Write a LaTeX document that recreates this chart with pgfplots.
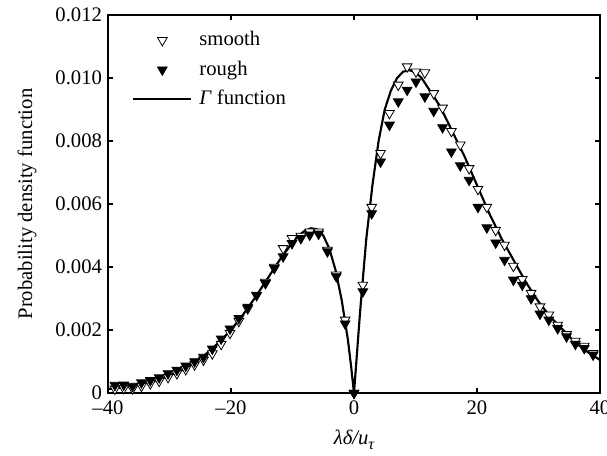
\documentclass[border=0pt]{standalone}
\usepackage{fontspec}
\setmainfont{Liberation Serif}
\usepackage{pgfplots}
\pgfplotsset{compat=1.18}
\pgfplotstableread{
x y
-38.88 0.00013
-37.44 0.00015
-36.00 0.00014
-34.56 0.00022
-33.12 0.00030
-31.68 0.00038
-30.24 0.00050
-28.80 0.00062
-27.36 0.00075
-25.92 0.00090
-24.48 0.00105
-23.04 0.00125
-21.60 0.00155
-20.16 0.00190
-18.72 0.00228
-17.28 0.00268
-15.84 0.00310
-14.40 0.00352
-12.96 0.00400
-11.52 0.00459
-10.08 0.00491
-8.64 0.00498
-7.20 0.00512
-5.76 0.00512
-4.32 0.00454
-2.88 0.00375
-1.44 0.00232
0.00 0.00000
1.44 0.00343
2.88 0.00590
4.32 0.00761
5.76 0.00888
7.20 0.00978
8.64 0.01036
10.08 0.01020
11.52 0.01017
12.96 0.00951
14.40 0.00905
15.84 0.00831
17.28 0.00788
18.72 0.00713
20.16 0.00647
21.60 0.00590
23.04 0.00517
24.48 0.00470
25.92 0.00403
27.36 0.00361
28.80 0.00317
30.24 0.00274
31.68 0.00248
33.12 0.00216
34.56 0.00186
36.00 0.00165
37.44 0.00149
38.88 0.00126
}\smooth
\pgfplotstableread{
x y
-38.88 0.00025
-37.44 0.00026
-36.00 0.00022
-34.56 0.00033
-33.12 0.00040
-31.68 0.00049
-30.24 0.00062
-28.80 0.00073
-27.36 0.00086
-25.92 0.00100
-24.48 0.00114
-23.04 0.00140
-21.60 0.00172
-20.16 0.00204
-18.72 0.00237
-17.28 0.00273
-15.84 0.00311
-14.40 0.00348
-12.96 0.00396
-11.52 0.00433
-10.08 0.00475
-8.64 0.00491
-7.20 0.00502
-5.76 0.00505
-4.32 0.00449
-2.88 0.00370
-1.44 0.00220
0.00 0.00000
1.44 0.00322
2.88 0.00570
4.32 0.00734
5.76 0.00851
7.20 0.00925
8.64 0.00962
10.08 0.00988
11.52 0.00941
12.96 0.00895
14.40 0.00843
15.84 0.00766
17.28 0.00722
18.72 0.00676
20.16 0.00590
21.60 0.00525
23.04 0.00477
24.48 0.00422
25.92 0.00359
27.36 0.00343
28.80 0.00300
30.24 0.00251
31.68 0.00232
33.12 0.00205
34.56 0.00179
36.00 0.00155
37.44 0.00142
38.88 0.00121
}\rough
\pgfplotstableread{
x y
-40 0.00012
-38 0.00017
-36 0.00022
-34 0.00030
-32 0.00040
-30 0.00055
-28 0.00072
-26 0.00095
-24 0.00125
-22 0.00160
-20 0.00200
-18 0.00250
-16 0.00305
-14 0.00365
-12 0.00425
-10 0.00478
-9 0.00500
-8 0.00515
-7 0.00523
-6 0.00520
-5 0.00500
-4 0.00458
-3 0.00390
-2 0.00295
-1 0.00170
-0.5 0.00090
0 0
0.5 0.0013
1 0.0026
2 0.0049
3 0.0066
4 0.0080
5 0.0090
6 0.0096
7 0.0100
8 0.01020
9 0.01025
10 0.01018
11 0.0100
12 0.0097
13 0.0094
14 0.0091
15 0.0087
16 0.0083
17 0.0079
18 0.0075
20 0.0066
22 0.0057
24 0.0049
26 0.0042
28 0.0035
30 0.0029
32 0.0024
34 0.0020
36 0.0016
38 0.0013
40 0.00105
}\gammafn
\begin{document}
\begin{tikzpicture}
\begin{axis}[
  scale only axis,
  width=369pt, height=283.5pt,
  xmin=-40, xmax=40, ymin=0, ymax=0.012,
  xtick={-40,-20,0,20,40},
  xticklabels={--40,--20,0,20,40},
  ytick={0,0.002,0.004,0.006,0.008,0.010,0.012},
  yticklabels={0,0.002,0.004,0.006,0.008,0.010,0.012},
  scaled y ticks=false,
  tick align=inside,
  major tick length=4pt,
  axis line style={line width=1.2pt},
  every tick/.style={black, line width=0.8pt},
  tick label style={font=\fontsize{15.5}{18}\selectfont},
  xticklabel style={yshift=-2pt},
  yticklabel style={xshift=-1pt},
  xlabel={\itshape λδ/u\raisebox{-0.45ex}{\fontsize{12}{14}\selectfont τ}},
  ylabel={Probability density function},
  label style={font=\fontsize{15.5}{18}\selectfont},
  xlabel style={at={(axis description cs:0.5,-0.124)}, anchor=center},
  ylabel style={at={(axis description cs:-0.1646,0.5)}, anchor=center, rotate=0},
  legend cell align=left,
  legend image code/.code={\draw[mark repeat=2,mark phase=2,#1] plot coordinates {(0pt,0pt) (21.75pt,0pt) (43.5pt,0pt)};},
  legend style={draw=none, fill=none, at={(axis description cs:0.0488,0.960)}, anchor=north west,
    font=\fontsize{15.5}{18}\selectfont, inner sep=0pt, row sep=7pt,
    nodes={inner sep=0pt, text height=11.5pt, text depth=3.5pt},
    /tikz/every odd column/.append style={column sep=5.25pt}},
]
\addplot[only marks, mark=triangle*, mark size=4.2pt, mark options={rotate=180, fill=white, draw=black, line width=0.6pt}] table {\smooth};
\addlegendentry{smooth}
\addplot[only marks, mark=triangle*, mark size=4.2pt, mark options={rotate=180, fill=black, draw=black, line width=0.6pt}] table {\rough};
\addlegendentry{rough}
\addplot[black, line width=1.6pt, no marks] table {\gammafn};
\addlegendentry{\textit{Γ} function}
\end{axis}
\pgfresetboundingbox
\useasboundingbox (-81pt,-46.5pt) rectangle (374.25pt,294.75pt);
\end{tikzpicture}
\end{document}
